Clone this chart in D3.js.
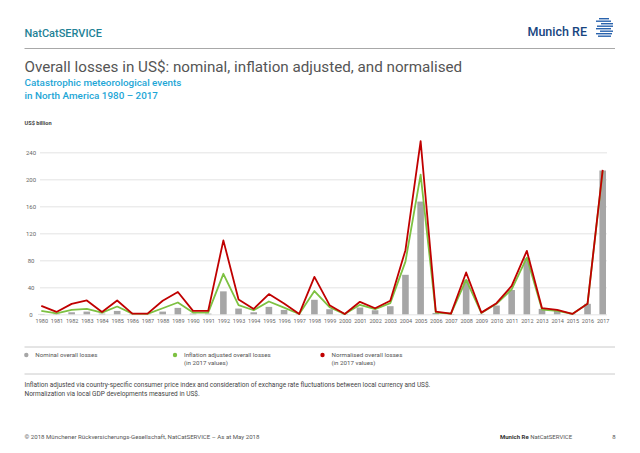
<!DOCTYPE html>
<html>
<head>
<meta charset="utf-8">
<script src="https://cdn.jsdelivr.net/npm/d3@7"></script>
<style>
  body { margin: 0; background: #fff; }
  svg { display: block; font-family: Roboto, "Liberation Sans", sans-serif; }
</style>
</head>
<body>
<div id="chart"></div>
<script>
// losses in US$ bn
var years = ['1980', '1981', '1982', '1983', '1984', '1985', '1986', '1987', '1988', '1989',
  '1990', '1991', '1992', '1993', '1994', '1995', '1996', '1997', '1998', '1999',
  '2000', '2001', '2002', '2003', '2004', '2005', '2006', '2007', '2008', '2009',
  '2010', '2011', '2012', '2013', '2014', '2015', '2016', '2017'];

var nominal = [0.5, 0.5, 3, 4, 1, 5, 0.3, 0.3, 4, 9.5,
  1, 1, 34, 8.5, 3, 11, 6.5, 0.3, 21.5, 7.5,
  0.5, 10, 6, 12, 58.5, 167, 2, 0.5, 51, 0.5,
  13, 36, 83, 8, 6.5, 1, 15.5, 213];

var inflation = [5, 1.5, 6.5, 8, 2.5, 11.5, 1, 0.5, 9, 17.5,
  2.5, 2.5, 60, 13.5, 6, 19, 10, 0.5, 34.5, 10.5,
  0.3, 14, 7.5, 16.5, 78, 207, 2.5, 1, 51, 2,
  15.5, 37, 84, 7, 5, 0.5, 15.5, 212];

var normalised = [12.5, 3.5, 15.5, 20.5, 3.5, 20.5, 1, 1, 20, 33,
  5, 5, 109.5, 22, 8, 30, 16, 0.5, 55.5, 13.5,
  0.5, 18.5, 9, 20, 95, 256.5, 4, 1, 62, 2.5,
  16.5, 42, 94, 9, 6.5, 0.5, 15.5, 214];

var yTicks = [0, 40, 80, 120, 160, 200, 240];

var legendItems = [
  { label: ['Nominal overall losses'], color: '#a6a6a6' },
  { label: ['Inflation adjusted overall losses', '(in 2017 values)'], color: '#7dc142' },
  { label: ['Normalised overall losses', '(in 2017 values)'], color: '#c00000' }
];

var W = 640, H = 453;
var left = 24.5, right = 615;
var teal = '#1f8296', cyan = '#1ea6d6', darkBlue = '#17457f';

var svg = d3.select('#chart').append('svg')
  .attr('width', W)
  .attr('height', H);

// header
svg.append('text')
  .attr('x', left).attr('y', 36.5)
  .attr('font-size', 11).attr('font-weight', 500)
  .attr('fill', teal)
  .text('NatCatSERVICE');

svg.append('text')
  .attr('x', 587).attr('y', 35.5)
  .attr('text-anchor', 'end')
  .attr('font-size', 12.5).attr('font-weight', 500)
  .attr('fill', darkBlue)
  .text('Munich RE');

// logo stripes
var logo = svg.append('g').attr('transform', 'translate(596,18)');
[[3, 10], [0, 15], [5, 12], [1, 16], [0, 15], [4, 13], [0, 16], [2, 13]].forEach(function(s, i) {
  logo.append('rect')
    .attr('x', s[0]).attr('y', i * 2.5)
    .attr('width', s[1]).attr('height', 1.4)
    .attr('fill', '#2a63ad');
});

svg.append('line')
  .attr('x1', left).attr('x2', right)
  .attr('y1', 48.5).attr('y2', 48.5)
  .attr('stroke', '#a8a8a8').attr('stroke-width', 1);

svg.append('text')
  .attr('x', left).attr('y', 72)
  .attr('font-size', 15.2).attr('font-weight', 400)
  .attr('fill', '#555')
  .text('Overall losses in US$: nominal, inflation adjusted, and normalised');

svg.append('text')
  .attr('x', left).attr('y', 85.5)
  .attr('font-size', 9.9).attr('font-weight', 500)
  .attr('fill', cyan)
  .text('Catastrophic meteorological events');

svg.append('text')
  .attr('x', left).attr('y', 98.5)
  .attr('font-size', 9.9).attr('font-weight', 500)
  .attr('fill', cyan)
  .text('in North America 1980 \u2013 2017');

svg.append('text')
  .attr('x', left).attr('y', 124.5)
  .attr('font-size', 5.6).attr('font-weight', 700)
  .attr('fill', '#444')
  .text('US$ billion');

// chart
var x = d3.scalePoint()
  .domain(years)
  .range([41.3, 602.7]);

var y = d3.scaleLinear()
  .domain([0, 240])
  .range([314.3, 152.3]);

var gridLeft = 40, gridRight = 607;

var yAxis = svg.append('g')
  .attr('transform', 'translate(' + gridLeft + ',0)')
  .call(d3.axisLeft(y).tickValues(yTicks).tickSize(-(gridRight - gridLeft)).tickPadding(0));

yAxis.select('.domain').remove();
yAxis.selectAll('.tick line').attr('stroke', '#dcdcdc').attr('stroke-width', 0.8);
yAxis.selectAll('.tick text')
  .attr('x', -9)
  .attr('text-anchor', 'middle')
  .attr('font-size', 6)
  .attr('font-family', 'Roboto, sans-serif')
  .attr('fill', '#666');

var xAxis = svg.append('g')
  .attr('transform', 'translate(0,' + y(0) + ')')
  .call(d3.axisBottom(x).tickSize(0).tickPadding(4.3));

xAxis.select('.domain').remove();
xAxis.selectAll('.tick text')
  .attr('font-size', 5.5)
  .attr('font-family', 'Roboto, sans-serif')
  .attr('fill', '#666');

var barW = 6.6;

svg.append('g').selectAll('rect')
  .data(nominal)
  .enter()
  .append('rect')
  .attr('x', function(d, i) { return x(years[i]) - barW / 2 })
  .attr('y', function(d) { return y(d) })
  .attr('width', barW)
  .attr('height', function(d) { return y(0) - y(d) })
  .attr('fill', '#a6a6a6');

var line = d3.line()
  .x(function(d, i) { return x(years[i]) })
  .y(function(d) { return y(d) });

svg.append('path')
  .datum(inflation)
  .attr('d', line)
  .attr('fill', 'none')
  .attr('stroke', '#7dc142')
  .attr('stroke-width', 1.8)
  .attr('stroke-linejoin', 'round');

svg.append('path')
  .datum(normalised)
  .attr('d', line)
  .attr('fill', 'none')
  .attr('stroke', '#c00000')
  .attr('stroke-width', 1.8)
  .attr('stroke-linejoin', 'round');

// legend
svg.append('line')
  .attr('x1', left).attr('x2', right)
  .attr('y1', 347).attr('y2', 347)
  .attr('stroke', '#bdbdbd').attr('stroke-width', 0.8);

svg.append('line')
  .attr('x1', left).attr('x2', right)
  .attr('y1', 374).attr('y2', 374)
  .attr('stroke', '#bdbdbd').attr('stroke-width', 0.8);

var legendX = [26.3, 175, 322.5];

var legend = svg.append('g').selectAll('g')
  .data(legendItems)
  .enter()
  .append('g')
  .attr('transform', function(d, i) { return 'translate(' + legendX[i] + ',355)' });

legend.append('circle')
  .attr('r', 2.2)
  .attr('fill', function(d) { return d.color });

legend.each(function(d) {
  d3.select(this).selectAll('text')
    .data(d.label)
    .enter()
    .append('text')
    .attr('x', 9)
    .attr('y', function(t, j) { return 2 + j * 8.3 })
    .attr('font-size', 6.2)
    .attr('fill', '#555')
    .text(function(t) { return t });
});

// notes
svg.append('text')
  .attr('x', left).attr('y', 387)
  .attr('font-size', 6.5).attr('fill', '#444')
  .text('Inflation adjusted via country-specific consumer price index and consideration of exchange rate fluctuations between local currency and US$.');

svg.append('text')
  .attr('x', left).attr('y', 395.5)
  .attr('font-size', 6.5).attr('fill', '#444')
  .text('Normalization via local GDP developments measured in US$.');

// footer
svg.append('text')
  .attr('x', left).attr('y', 439)
  .attr('font-size', 6.1).attr('fill', '#555')
  .text('\u00a9 2018 M\u00fcnchener R\u00fcckversicherungs-Gesellschaft, NatCatSERVICE \u2013 As at May 2018');

var foot = svg.append('text')
  .attr('x', 500).attr('y', 439)
  .attr('font-size', 6).attr('fill', '#555');
foot.append('tspan').attr('font-weight', 700).attr('fill', '#333').text('Munich Re');
foot.append('tspan').text('  NatCatSERVICE');

svg.append('text')
  .attr('x', 614).attr('y', 439)
  .attr('text-anchor', 'middle')
  .attr('font-size', 6).attr('fill', '#555')
  .text('8');
</script>
</body>
</html>
